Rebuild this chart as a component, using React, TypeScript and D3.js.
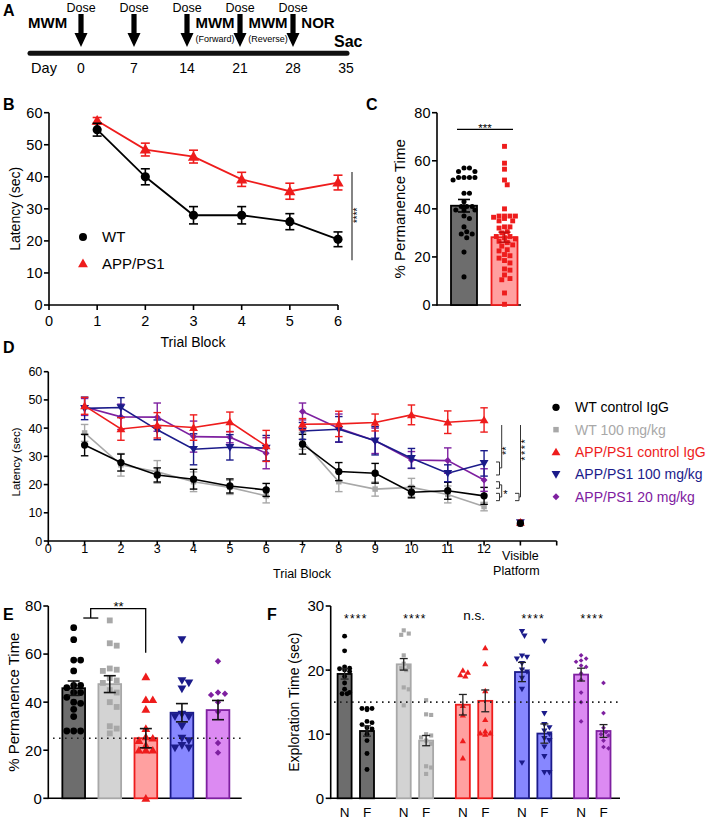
import * as d3 from "d3";
import React from "react";

const FONT = "'Liberation Sans', Arial, Helvetica, sans-serif";
const NARROW = "'Liberation Sans Narrow', 'Liberation Sans', Arial, sans-serif";

const BLACK = "#000000";
const GRAY = "#a8a8a8";
const RED = "#ee1c1c";
const NAVY = "#1b1b8a";
const PURPLE = "#7e20a0";

// ---------- A: timeline ----------
const doseDays = [0, 7, 14, 21, 28];
const dayTicks = [0, 7, 14, 21, 28, 35];

// ---------- B: training latency ----------
const blocksB = [1, 2, 3, 4, 5, 6];
const wtB = [54.7, 40, 28, 28, 26, 20.5];
const wtBErr = [2, 2.5, 2.7, 2.7, 2.5, 2.3];
const appB = [57.5, 48.5, 46.3, 39.2, 35.5, 38.2];
const appBErr = [1, 2, 2, 2.2, 2.5, 2.3];

// ---------- C: probe trial ----------
const groupsC = ["WT", "APP/PS1"];
const meansC = [41.3, 28.2];
const errC = [2.6, 2.1];
const wtC = [57, 57, 55.5, 55.5, 53, 53, 53, 53, 52, 46.5, 46.5, 43, 41, 41, 41, 39.5, 39.5, 39.5, 37, 36, 32.5, 30.5, 29.5, 29.5, 28, 22, 11.7];
const appC = [66, 59, 56.5, 52, 50, 40, 37, 37, 37, 37, 36.5, 36, 35, 35, 32.5, 32.5, 32, 30.5, 30, 28.5, 28.5, 28, 27.5, 26.5, 26, 25, 24.5, 23, 22.5, 21, 20.5, 19.5, 18.5, 17.5, 15, 14.5, 12.5, 11, 10.5, 5, 0.3];

// ---------- D: forward / reverse latency ----------
const blocksD1 = [1, 2, 3, 4, 5, 6];
const blocksD2 = [7, 8, 9, 10, 11, 12];
const visibleBlock = 13;
const seriesNames = ["WT control IgG", "WT 100 mg/kg", "APP/PS1 control IgG", "APP/PS1 100 mg/kg", "APP/PS1 20 mg/kg"];
const wtCtrlD = [34, 27.8, 23.4, 21.9, 19.5, 18.1, 34.3, 24.6, 24, 17.3, 17.8, 16];
const wtCtrlDErr = [3.8, 3, 2.5, 3.5, 2.5, 2.3, 3.5, 3.2, 3.5, 2, 3, 3];
const wt100D = [38.3, 27, 24.5, 21, 19, 16, 35.5, 21, 18.4, 19, 16.5, 12.2];
const wt100DErr = [3, 4, 4, 3.5, 2.5, 2.5, 3, 3.5, 2.5, 3.2, 3, 1.5];
const appCtrlD = [47.9, 39.7, 41, 40.2, 42.2, 33.7, 41.4, 41.5, 42, 44.7, 42.1, 42.9];
const appCtrlDErr = [3, 4, 4.5, 4.5, 3.5, 5.5, 2, 4.5, 3, 3.5, 4, 4.3];
const app100D = [47, 47.3, 39.4, 32.5, 33.2, 32.9, 39, 39.6, 35.5, 29.3, 24, 27.5];
const app100DErr = [4, 3.5, 3.5, 5.5, 4.5, 4.5, 3, 4.5, 5, 3.5, 3, 4.5];
const app20D = [47.5, 44, 43.9, 37, 36.8, 31.1, 45.9, 40, 35.5, 28.7, 28.5, 21.6];
const app20DErr = [3, 4.5, 5, 5.5, 2, 5.5, 3, 5, 4.5, 3, 4.5, 4];
const visibleD = [6.3, 6, 6.6, 6.5, 6.1];
const visibleDErr = [0.8, 0.6, 0.8, 0.8, 0.6];

// ---------- E: probe trial by group ----------
const meansE = [45.8, 47.5, 25, 35.6, 36.7];
const errE = [3, 3.5, 4, 3.8, 4];
const ptsE = [
  [71, 66, 57.5, 57.5, 53, 47, 47, 46, 44, 44, 42, 40, 39.5, 37, 34, 28, 28, 28],
  [74, 64.5, 63.5, 54, 53.5, 53, 50, 49, 48, 45, 44, 40, 38, 30, 29, 27],
  [50.5, 41, 41, 37, 29, 25.5, 25, 24, 22, 20, 20, 20, 0],
  [66, 49, 48, 45.5, 35, 34, 34, 30, 25, 24, 22, 21, 21],
  [57, 44, 43.5, 43, 40, 36, 23, 19],
];

// ---------- F: novel object recognition ----------
const meansFN = [19.4, 20.9, 14.6, 19.7, 19.3];
const errFN = [0.8, 0.9, 1.6, 1.5, 1];
const meansFF = [10.5, 9, 15.2, 10.1, 10.5];
const errFF = [0.8, 0.8, 1.7, 1.5, 1];
const ptsFN = [
  [25.3, 23, 20.5, 20.3, 20.2, 20, 19.8, 19, 18, 17, 16.5, 16.3, 16.3],
  [26.2, 25.7, 25.5, 22.3, 21, 20.5, 20.3, 20, 17.3, 17, 14.5],
  [20, 19.7, 19.3, 19.1, 14.5, 13, 9, 6.3],
  [26, 25.3, 22.2, 22, 21.7, 21, 20, 19.7, 18.7, 17, 5.5],
  [22.3, 21.8, 21.5, 21.3, 20.7, 20.5, 19.5, 18.5, 16.5, 15, 12],
];
const ptsFF = [
  [14, 14, 14, 13.8, 12, 11.8, 11.5, 11, 10.8, 10, 9, 7, 4.5],
  [15.3, 13.1, 13, 10, 9.8, 9.5, 9, 8.5, 5, 4.8, 3.8],
  [23.5, 21, 16.8, 12.3, 10.5, 10.2, 10.2, 10],
  [24.5, 13.2, 11.5, 11, 10.5, 10, 9.3, 9, 8, 6.5, 4, 4],
  [18, 13.3, 11, 10.3, 10, 9.8, 9, 8, 7.8],
];
const sigF = ["****", "****", "n.s.", "****", "****"];

const colorsGroup = [BLACK, GRAY, RED, NAVY, PURPLE];
const fillsGroup = ["#6d6d6d", "#d3d3d3", "#ffa0a0", "#8787ff", "#dc8af2"];
const shapesGroup = ["circle", "square", "triangle", "invTriangle", "diamond"];

// ---------- helpers ----------
function symbolPath(shape: string, size: number) {
  const t =
    shape === "circle" ? d3.symbolCircle :
    shape === "square" || shape === "diamond" ? d3.symbolSquare :
    d3.symbolTriangle;
  return d3.symbol().type(t).size(size)() as string;
}

function Marker({ shape, x, y, size, color }: any) {
  const rot = shape === "invTriangle" ? 180 : shape === "diamond" ? 45 : 0;
  const dy = shape === "triangle" ? 0.8 : shape === "invTriangle" ? -0.8 : 0;
  return (
    <path d={symbolPath(shape, size)} transform={`translate(${x},${y + dy}) rotate(${rot})`} fill={color} />
  );
}

function ErrBar({ x, y0, y1, w, color, sw = 1.6 }: any) {
  return (
    <g stroke={color} strokeWidth={sw} fill="none">
      <line x1={x} x2={x} y1={y0} y2={y1} />
      <line x1={x - w / 2} x2={x + w / 2} y1={y0} y2={y0} />
      <line x1={x - w / 2} x2={x + w / 2} y1={y1} y2={y1} />
    </g>
  );
}

// deterministic beeswarm offsets
function swarm(values: number[], y: (v: number) => number, r: number, maxHalf: number) {
  const order = values.map((_, i) => i).sort((a, b) => values[b] - values[a]);
  const placed: { x: number; y: number }[] = [];
  const out: number[] = new Array(values.length).fill(0);
  const step = r * 1.05;
  for (const i of order) {
    const py = y(values[i]);
    let chosen = 0;
    let bestOverlap = Infinity;
    for (let k = 0; k < 30; k++) {
      const off = (k % 2 === 1 ? 1 : -1) * Math.ceil(k / 2) * step;
      if (Math.abs(off) > maxHalf) continue;
      let overlap = 0;
      for (const p of placed) {
        const d = Math.hypot(p.x - off, p.y - py);
        if (d < 2 * r) overlap += 2 * r - d;
      }
      if (overlap === 0) { chosen = off; bestOverlap = 0; break; }
      if (overlap < bestOverlap) { bestOverlap = overlap; chosen = off; }
    }
    placed.push({ x: chosen, y: py });
    out[i] = chosen;
  }
  return out;
}

function YAxis({ y, x, ticks, fs, len = 5 }: any) {
  const [r0, r1] = y.range();
  return (
    <g>
      <line x1={x} x2={x} y1={r0 + 0.8} y2={r1} stroke="#000" strokeWidth={1.6} />
      {ticks.map((t: number) => (
        <g key={t}>
          <line x1={x - len} x2={x} y1={y(t)} y2={y(t)} stroke="#000" strokeWidth={1.6} />
          <text x={x - len - 1.5} y={y(t)} dy="0.36em" textAnchor="end" fontSize={fs}>{t}</text>
        </g>
      ))}
    </g>
  );
}

function Stars({ x, y, text, fs, rotate = false, spacing = 0 }: any) {
  return (
    <text
      x={x} y={y} fontSize={fs} textAnchor="middle" letterSpacing={spacing}
      transform={rotate ? `rotate(-90,${x},${y})` : undefined}
    >{text}</text>
  );
}

export default function App() {
  // ---- A scales ----
  const xA = d3.scaleLinear().domain([0, 35]).range([81, 346]);

  // ---- B scales ----
  const xB = d3.scaleLinear().domain([0, 6]).range([49, 338]);
  const yB = d3.scaleLinear().domain([0, 60]).range([305, 112.7]);
  const lineB = d3.line<[number, number]>().x(d => xB(d[0])).y(d => yB(d[1]));

  // ---- C scales ----
  const xC = d3.scalePoint<string>().domain(groupsC).range([464, 504.5]);
  const yC = d3.scaleLinear().domain([0, 80]).range([305, 112.7]);
  const bwC = 26;

  // ---- D scales ----
  const xD = d3.scaleLinear().domain([0, 14]).range([48.3, 556.7]);
  const yD = d3.scaleLinear().domain([0, 60]).range([541, 371.7]);
  const lineD = d3.line<[number, number]>().x(d => xD(d[0])).y(d => yD(d[1]));
  const seriesD = [
    { name: seriesNames[0], v: wtCtrlD, e: wtCtrlDErr, c: BLACK, s: "circle", size: 42 },
    { name: seriesNames[1], v: wt100D, e: wt100DErr, c: GRAY, s: "square", size: 30 },
    { name: seriesNames[2], v: appCtrlD, e: appCtrlDErr, c: RED, s: "triangle", size: 34 },
    { name: seriesNames[3], v: app100D, e: app100DErr, c: NAVY, s: "invTriangle", size: 34 },
    { name: seriesNames[4], v: app20D, e: app20DErr, c: PURPLE, s: "diamond", size: 24 },
  ];
  const blocksD = [...blocksD1, ...blocksD2];
  const drawOrderD = [1, 0, 4, 3, 2];

  // ---- E scales ----
  const xE = d3.scalePoint<number>().domain([0, 1, 2, 3, 4]).range([73.7, 218]);
  const yE = d3.scaleLinear().domain([0, 80]).range([798.3, 606]);
  const bwE = 22.7;

  // ---- F scales ----
  const xF = d3.scalePoint<number>().domain([0, 1, 2, 3, 4]).range([355.8, 592.3]);
  const yF = d3.scaleLinear().domain([0, 30]).range([798.3, 606]);
  const bwF = 14;
  const offF = 11.2;

  const bracketStroke = { stroke: "#333", strokeWidth: 1, fill: "none" };

  return (
    <svg width={709} height={820} style={{ position: "absolute", left: 0, top: 0, background: "#fff" }} fontFamily={FONT}>
      {/* ================= A ================= */}
      <g>
        <text x={3} y={16} fontSize={16} fontWeight="bold">A</text>
        <g fontFamily={NARROW}>
          <text x={28} y={28} fontSize={15} fontWeight="bold">MWM</text>
          {doseDays.map(d => (
            <g key={d}>
              <text x={xA(d)} y={11.5} fontSize={12.5} textAnchor="middle">Dose</text>
              <path
                d={`M${xA(d) - 2.6},14 H${xA(d) + 2.6} V33 H${xA(d) + 6.5} L${xA(d)},47 L${xA(d) - 6.5},33 H${xA(d) - 2.6} Z`}
                fill="#000"
              />
            </g>
          ))}
          <text x={xA(17.7)} y={28} fontSize={15} fontWeight="bold" textAnchor="middle">MWM</text>
          <text x={xA(17.7)} y={41.5} fontSize={9} textAnchor="middle">(Forward)</text>
          <text x={xA(24.7)} y={28} fontSize={15} fontWeight="bold" textAnchor="middle">MWM</text>
          <text x={xA(24.7)} y={41.5} fontSize={9} textAnchor="middle">(Reverse)</text>
          <text x={xA(31.3)} y={28} fontSize={15} fontWeight="bold" textAnchor="middle">NOR</text>
          <text x={xA(35.3)} y={46.5} fontSize={16} fontWeight="bold" textAnchor="middle">Sac</text>
          <line x1={30} x2={347} y1={53.3} y2={53.3} stroke="#111" strokeWidth={5} strokeLinecap="round" />
          <text x={44} y={73} fontSize={14.5} textAnchor="middle">Day</text>
          {dayTicks.map(d => (
            <text key={d} x={xA(d)} y={73} fontSize={14} textAnchor="middle">{d}</text>
          ))}
        </g>
      </g>

      {/* ================= B ================= */}
      <g>
        <text x={3} y={110} fontSize={16} fontWeight="bold">B</text>
        <YAxis y={yB} x={49} ticks={[0, 10, 20, 30, 40, 50, 60]} fs={14.5} />
        <line x1={49} x2={xB(6)} y1={305} y2={305} stroke="#000" strokeWidth={1.6} />
        {d3.range(0, 7).map(t => (
          <g key={t}>
            <line x1={xB(t)} x2={xB(t)} y1={305} y2={310} stroke="#000" strokeWidth={1.6} />
            <text x={xB(t)} y={326} fontSize={14.5} textAnchor="middle">{t}</text>
          </g>
        ))}
        <text x={193} y={347} fontSize={14} textAnchor="middle">Trial Block</text>
        <text x={0} y={0} fontSize={14} textAnchor="middle" transform={`translate(20,${yB(30)}) rotate(-90)`}>Latency (sec)</text>

        <path d={lineB(blocksB.map((b, i) => [b, appB[i]]) as any) || ""} stroke={RED} strokeWidth={1.8} fill="none" />
        {blocksB.map((b, i) => (
          <ErrBar key={b} x={xB(b)} y0={yB(appB[i] - appBErr[i])} y1={yB(appB[i] + appBErr[i])} w={9} color={RED} />
        ))}
        {blocksB.map((b, i) => <Marker key={b} shape="triangle" x={xB(b)} y={yB(appB[i])} size={55} color={RED} />)}

        <path d={lineB(blocksB.map((b, i) => [b, wtB[i]]) as any) || ""} stroke={BLACK} strokeWidth={1.8} fill="none" />
        {blocksB.map((b, i) => (
          <ErrBar key={b} x={xB(b)} y0={yB(wtB[i] - wtBErr[i])} y1={yB(wtB[i] + wtBErr[i])} w={9} color={BLACK} />
        ))}
        {blocksB.map((b, i) => <Marker key={b} shape="circle" x={xB(b)} y={yB(wtB[i])} size={66} color={BLACK} />)}

        <Marker shape="circle" x={83} y={237} size={50} color={BLACK} />
        <text x={102} y={242} fontSize={15}>WT</text>
        <Marker shape="triangle" x={83} y={263.5} size={42} color={RED} />
        <text x={102} y={269} fontSize={15}>APP/PS1</text>

        <line x1={352} x2={352} y1={yB(41.5)} y2={yB(14)} {...bracketStroke} strokeWidth={1.2} />
        <Stars x={361} y={yB(28)} text="****" fs={10} rotate />
      </g>

      {/* ================= C ================= */}
      <g>
        <text x={366} y={110} fontSize={16} fontWeight="bold">C</text>
        <text x={0} y={0} fontSize={15} textAnchor="middle" transform={`translate(405,${yC(40)}) rotate(-90)`}>% Permanence Time</text>
        <YAxis y={yC} x={437} ticks={[0, 20, 40, 60, 80]} fs={14.5} />
        <line x1={437} x2={521} y1={305} y2={305} stroke="#000" strokeWidth={1.6} />
        {groupsC.map((g, gi) => {
          const cx = xC(g) as number;
          const vals = gi === 0 ? wtC : appC;
          const col = gi === 0 ? BLACK : RED;
          const offs = swarm(vals, yC, 2.6, 12);
          return (
            <g key={g}>
              <rect x={cx - bwC / 2} y={yC(meansC[gi])} width={bwC} height={305 - yC(meansC[gi])}
                fill={gi === 0 ? "#6d6d6d" : "#ffa0a0"} stroke={col} strokeWidth={1.8} />
              {vals.map((v, i) => (
                <Marker key={i} shape={gi === 0 ? "circle" : "square"} x={cx + offs[i]} y={yC(v)} size={gi === 0 ? 20 : 24} color={col} />
              ))}
              <ErrBar x={cx} y0={yC(meansC[gi] - errC[gi])} y1={yC(meansC[gi] + errC[gi])} w={12} color={gi === 0 ? BLACK : "#c01010"} />
            </g>
          );
        })}
        <line x1={457} x2={513} y1={129.3} y2={129.3} stroke="#000" strokeWidth={1.3} />
        <Stars x={485} y={131.5} text="***" fs={11.5} />
      </g>

      {/* ================= D ================= */}
      <g>
        <text x={3} y={353} fontSize={16} fontWeight="bold">D</text>
        <YAxis y={yD} x={48.3} ticks={[0, 10, 20, 30, 40, 50, 60]} fs={12.5} len={4.5} />
        <line x1={48.3} x2={xD(14)} y1={541} y2={541} stroke="#000" strokeWidth={1.6} />
        {d3.range(0, 15).map(t => (
          <g key={t}>
            <line x1={xD(t)} x2={xD(t)} y1={541} y2={545.5} stroke="#000" strokeWidth={1.6} />
            {t <= 12 && <text x={xD(t)} y={553} fontSize={12.5} textAnchor="middle">{t}</text>}
          </g>
        ))}
        <text x={xD(visibleBlock)} y={560} fontSize={12.5} textAnchor="middle">Visible</text>
        <text x={xD(visibleBlock) - 4} y={575} fontSize={12.5} textAnchor="middle">Platform</text>
        <text x={302} y={578} fontSize={12.5} textAnchor="middle">Trial Block</text>
        <text x={0} y={0} fontSize={11.5} textAnchor="middle" transform={`translate(20,${yD(28)}) rotate(-90)`}>Latency (sec)</text>

        {drawOrderD.map(si => {
          const s = seriesD[si];
          const seg1 = blocksD1.map((b, i) => [b, s.v[i]] as [number, number]);
          const seg2 = blocksD2.map((b, i) => [b, s.v[i + 6]] as [number, number]);
          return (
            <g key={s.name}>
              <path d={lineD(seg1) || ""} stroke={s.c} strokeWidth={1.6} fill="none" />
              <path d={lineD(seg2) || ""} stroke={s.c} strokeWidth={1.6} fill="none" />
              {blocksD.map((b, i) => (
                <ErrBar key={b} x={xD(b)} y0={yD(s.v[i] - s.e[i])} y1={yD(s.v[i] + s.e[i])} w={7.5} color={s.c} sw={1.4} />
              ))}
              {blocksD.map((b, i) => (
                <Marker key={b} shape={s.s} x={xD(b)} y={yD(s.v[i])} size={s.size} color={s.c} />
              ))}
            </g>
          );
        })}
        {/* visible platform */}
        {[1, 4, 3, 2, 0].map(si => {
          const s = seriesD[si];
          return (
            <g key={si}>
              <ErrBar x={xD(visibleBlock)} y0={yD(visibleD[si] - visibleDErr[si])} y1={yD(visibleD[si] + visibleDErr[si])} w={5} color={s.c} sw={1.2} />
              <Marker shape={s.s} x={xD(visibleBlock)} y={yD(visibleD[si])} size={s.size} color={s.c} />
            </g>
          );
        })}

        {/* significance brackets */}
        <g {...bracketStroke}>
          <path d={`M496,${yD(28)} H499.5 V${yD(23.4)} H496`} />
          <path d={`M499.5,${yD(25.9)} H501.7 V${yD(41.1)}`} />
          <path d={`M496,${yD(21)} H499.5 V${yD(18.7)} H496`} />
          <path d={`M496,${yD(16.9)} H499.5 V${yD(14.3)} H496`} />
          <path d={`M499.5,${yD(19.9)} H501.7 V${yD(15.6)} H499.5`} />
          <path d={`M515,${yD(16.9)} H519 V${yD(14.3)} H515`} />
          <path d={`M519,${yD(15.6)} H520.5 V${yD(41.1)}`} />
        </g>
        <Stars x={510} y={yD(32)} text="**" fs={11} rotate />
        <Stars x={505.5} y={yD(15.6) + 1} text="*" fs={11} />
        <Stars x={529} y={yD(32.5)} text="****" fs={11} rotate spacing={1.5} />

        {/* legend */}
        {seriesD.map((s, i) => (
          <g key={s.name}>
            <Marker shape={s.s} x={556} y={407.3 + i * 22.35} size={s.size} color={s.c} />
            <text x={575} y={407.3 + i * 22.35} dy="0.36em" fontSize={14} fill={s.c}>{s.name}</text>
          </g>
        ))}
      </g>

      {/* ================= E ================= */}
      <g>
        <text x={3} y={620} fontSize={16} fontWeight="bold">E</text>
        <text x={0} y={0} fontSize={15} textAnchor="middle" transform={`translate(19,${yE(40)}) rotate(-90)`}>% Permanence Time</text>
        <YAxis y={yE} x={48.3} ticks={[0, 20, 40, 60, 80]} fs={15} />
        <line x1={48.3} x2={241.7} y1={798.3} y2={798.3} stroke="#000" strokeWidth={1.6} />
        {meansE.map((m, gi) => {
          const cx = xE(gi) as number;
          const offs = swarm(ptsE[gi], yE, 3.3, 12);
          return (
            <g key={gi}>
              <rect x={cx - bwE / 2} y={yE(m)} width={bwE} height={798.3 - yE(m)}
                fill={fillsGroup[gi]} stroke={colorsGroup[gi]} strokeWidth={1.8} />
              {ptsE[gi].map((v, i) => (
                <Marker key={i} shape={shapesGroup[gi]} x={cx + offs[i]} y={yE(v)}
                  size={shapesGroup[gi] === "circle" ? 36 : shapesGroup[gi] === "diamond" ? 20 : 34} color={colorsGroup[gi]} />
              ))}
              <ErrBar x={cx} y0={yE(m - errE[gi])} y1={yE(m + errE[gi])} w={12} color="#111" />
            </g>
          );
        })}
        <line x1={53} x2={241} y1={yE(25)} y2={yE(25)} stroke="#222" strokeWidth={1.6} strokeDasharray="1.6,4.4" />
        <g stroke="#000" strokeWidth={1.3} fill="none">
          <path d={`M83.3,${yE(75)} H98.3`} />
          <path d={`M90.7,${yE(75)} V${yE(78.9)} H145.7 V${yE(60.5)}`} />
        </g>
        <Stars x={118.5} y={611} text="**" fs={13} />
      </g>

      {/* ================= F ================= */}
      <g>
        <text x={267} y={620} fontSize={16} fontWeight="bold">F</text>
        <text x={0} y={0} fontSize={14} textAnchor="middle" transform={`translate(299,${yF(15)}) rotate(-90)`}>Exploration Time (sec)</text>
        <YAxis y={yF} x={330.7} ticks={[0, 10, 20, 30]} fs={15} />
        <line x1={330.7} x2={620} y1={798.3} y2={798.3} stroke="#000" strokeWidth={1.6} />
        {meansFN.map((_, gi) => {
          const c = xF(gi) as number;
          const bars = [
            { x: c - offF, m: meansFN[gi], e: errFN[gi], pts: ptsFN[gi], lab: "N" },
            { x: c + offF, m: meansFF[gi], e: errFF[gi], pts: ptsFF[gi], lab: "F" },
          ];
          return (
            <g key={gi}>
              {bars.map(b => {
                const offs = swarm(b.pts, yF, 2.4, 7.5);
                return (
                  <g key={b.lab}>
                    <rect x={b.x - bwF / 2} y={yF(b.m)} width={bwF} height={798.3 - yF(b.m)}
                      fill={fillsGroup[gi]} stroke={colorsGroup[gi]} strokeWidth={1.8} />
                    {b.pts.map((v, i) => (
                      <Marker key={i} shape={shapesGroup[gi]} x={b.x + offs[i]} y={yF(v)}
                        size={shapesGroup[gi] === "circle" ? 19 : shapesGroup[gi] === "diamond" ? 11 : 17} color={colorsGroup[gi]} />
                    ))}
                    <ErrBar x={b.x} y0={yF(b.m - b.e)} y1={yF(b.m + b.e)} w={8} color="#222" sw={1.3} />
                    <text x={b.x} y={816.5} fontSize={13.5} textAnchor="middle">{b.lab}</text>
                  </g>
                );
              })}
              {sigF[gi] === "n.s." ? (
                <text x={c} y={620} fontSize={13.5} textAnchor="middle">n.s.</text>
              ) : (
                <Stars x={c} y={623} text={sigF[gi]} fs={12} spacing={1.2} />
              )}
            </g>
          );
        })}
        <line x1={334} x2={620} y1={yF(15)} y2={yF(15)} stroke="#222" strokeWidth={1.6} strokeDasharray="1.6,4.4" />
      </g>
    </svg>
  );
}
